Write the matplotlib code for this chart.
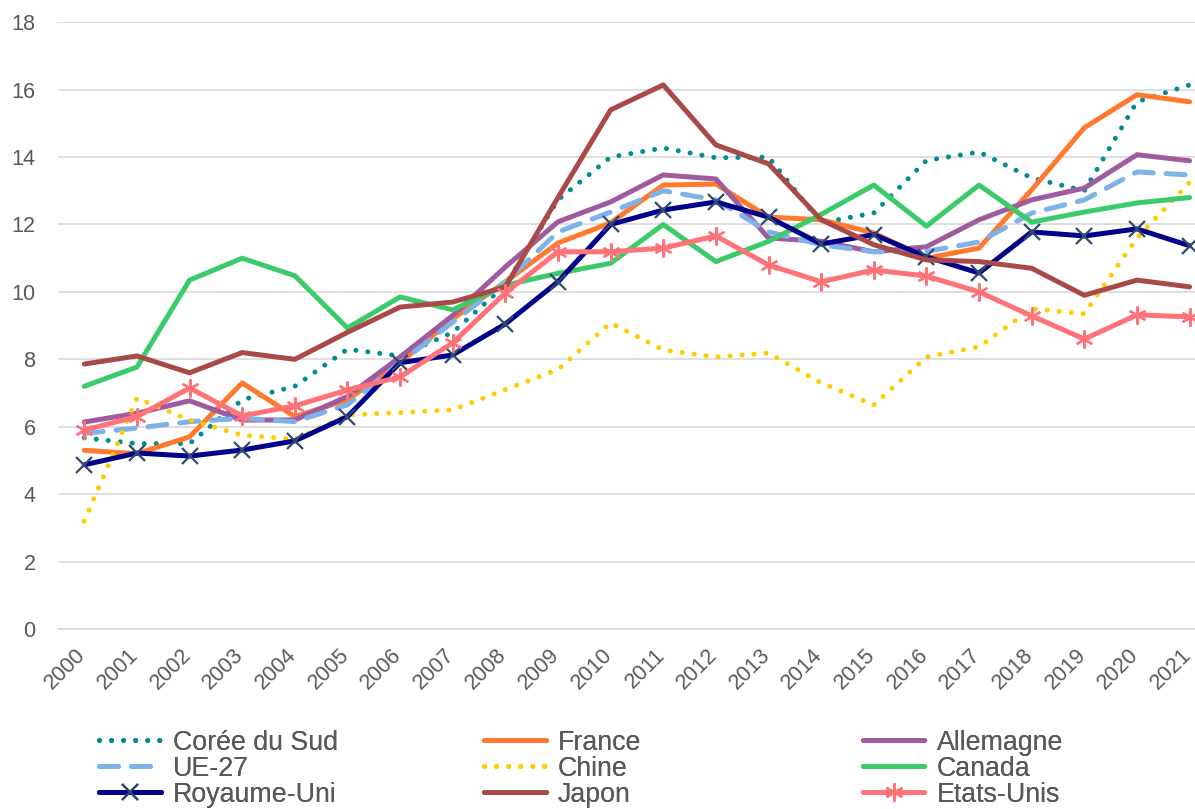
import matplotlib
matplotlib.use('Agg')
import matplotlib.pyplot as plt
import matplotlib.transforms as mtransforms

plt.rcParams['font.family'] = ['Liberation Sans', 'DejaVu Sans']

years = [str(y) for y in range(2000, 2022)]

coree = [5.67, 5.5, 5.5, 6.8, 7.2, 8.3, 8.1, 8.8, 10.2, 12.73, 14.0, 14.27,
         13.98, 14.0, 12.05, 12.34, 13.9, 14.15, 13.38, 13.0, 15.64, 16.14]
france = [5.3, 5.2, 5.7, 7.3, 6.3, 6.8, 7.9, 9.2, 10.3, 11.45, 12.05, 13.17,
          13.2, 12.22, 12.14, 11.75, 11.0, 11.3, 13.03, 14.87, 15.85, 15.64]
allemagne = [6.14, 6.4, 6.77, 6.2, 6.2, 6.9, 8.07, 9.3, 10.74, 12.08, 12.67, 13.47,
             13.35, 11.6, 11.5, 11.19, 11.34, 12.14, 12.73, 13.08, 14.07, 13.89]
ue27 = [5.8, 5.96, 6.15, 6.25, 6.15, 6.65, 7.9, 9.1, 10.3, 11.78, 12.37, 13.0,
        12.73, 11.78, 11.4, 11.19, 11.2, 11.48, 12.34, 12.73, 13.56, 13.47]
chine = [3.2, 6.85, 6.2, 5.75, 5.63, 6.35, 6.42, 6.5, 7.1, 7.7, 9.08, 8.28,
         8.07, 8.19, 7.3, 6.65, 8.07, 8.37, 9.5, 9.35, 11.6, 13.25]
canada = [7.2, 7.77, 10.35, 11.0, 10.48, 8.93, 9.85, 9.47, 10.2, 10.55, 10.85, 12.0,
          10.9, 11.5, 12.3, 13.17, 11.95, 13.17, 12.07, 12.37, 12.64, 12.8]
royaume_uni = [4.87, 5.22, 5.13, 5.31, 5.58, 6.3, 7.9, 8.13, 9.05, 10.3, 12.0, 12.43,
               12.67, 12.22, 11.42, 11.7, 11.04, 10.56, 11.78, 11.66, 11.87, 11.37]
japon = [7.86, 8.1, 7.6, 8.2, 8.0, 8.8, 9.55, 9.7, 10.15, 12.8, 15.4, 16.14,
         14.36, 13.8, 12.14, 11.4, 10.95, 10.9, 10.7, 9.9, 10.35, 10.15]
etats_unis = [5.9, 6.3, 7.15, 6.32, 6.62, 7.09, 7.48, 8.49, 9.97, 11.19, 11.19, 11.3,
              11.66, 10.8, 10.3, 10.65, 10.47, 10.0, 9.29, 8.6, 9.32, 9.26]

fig = plt.figure(figsize=(11.95, 8.09), dpi=100)
# plot area runs a bit past the right edge, like the original
ax = fig.add_axes([0.0485, 0.2225, 0.969, 0.750])

x = list(range(len(years)))
lw = 3.6
dot = (0, (0.01, 2.4))

h_coree, = ax.plot(x, coree, color='#008C95', lw=lw, ls=dot, dash_capstyle='round', label='Corée du Sud')
h_france, = ax.plot(x, france, color='#FF7A2F', lw=lw, solid_capstyle='round', label='France')
h_all, = ax.plot(x, allemagne, color='#A05AA0', lw=lw, solid_capstyle='round', label='Allemagne')
h_ue, = ax.plot(x, ue27, color='#7DB3E8', lw=lw, ls=(0, (3.8, 2.6)), dash_capstyle='round', label='UE-27')
h_chine, = ax.plot(x, chine, color='#FFCC00', lw=lw, ls=dot, dash_capstyle='round', label='Chine')
h_canada, = ax.plot(x, canada, color='#3CCB6A', lw=lw, solid_capstyle='round', label='Canada')
h_ru, = ax.plot(x, royaume_uni, color='#00008B', lw=lw, solid_capstyle='round',
                marker='x', ms=11, mew=1.6, mec='#2F4A6C', label='Royaume-Uni')
h_japon, = ax.plot(x, japon, color='#A94A48', lw=lw, solid_capstyle='round', label='Japon')
h_eu, = ax.plot(x, etats_unis, color='#FF7278', lw=lw, solid_capstyle='round',
                marker=(6, 2, 0), ms=13, mew=1.6, mec='#FF7278', label='Etats-Unis')

ax.set_ylim(0, 18)
ax.set_xlim(-0.5, 21.5)
ax.set_yticks(range(0, 19, 2))
ax.set_xticks(x)
ax.set_xticklabels(years, rotation=45, ha='right', rotation_mode='anchor')
ax.tick_params(axis='both', length=0, labelsize=15.6, colors='#595959')
ax.tick_params(axis='x', pad=11)
ax.tick_params(axis='y', pad=16)
shift = mtransforms.ScaledTranslation(-9 / 100, 0, fig.dpi_scale_trans)
for lab in ax.get_xticklabels():
    lab.set_transform(lab.get_transform() + shift)
ax.grid(axis='y', color='#D9D9D9', lw=1.2)
ax.set_axisbelow(True)
for s in ['top', 'right', 'left']:
    ax.spines[s].set_visible(False)
ax.spines['bottom'].set_color('#D9D9D9')
ax.spines['bottom'].set_linewidth(1.2)

# legend: three columns placed like the original
columns = [[h_coree, h_ue, h_ru], [h_france, h_chine, h_japon], [h_all, h_canada, h_eu]]
col_x = [0.083, 0.405, 0.722]
for hs, cx in zip(columns, col_x):
    leg = fig.legend(handles=hs, loc='upper left', bbox_to_anchor=(cx, 0.098),
                     frameon=False, fontsize=19.3, handlelength=2.3, handletextpad=0.45,
                     labelspacing=0.0, borderaxespad=0, borderpad=0)
    for t in leg.get_texts():
        t.set_color('#595959')
    fig.add_artist(leg)

fig.savefig('out.png', dpi=100)
